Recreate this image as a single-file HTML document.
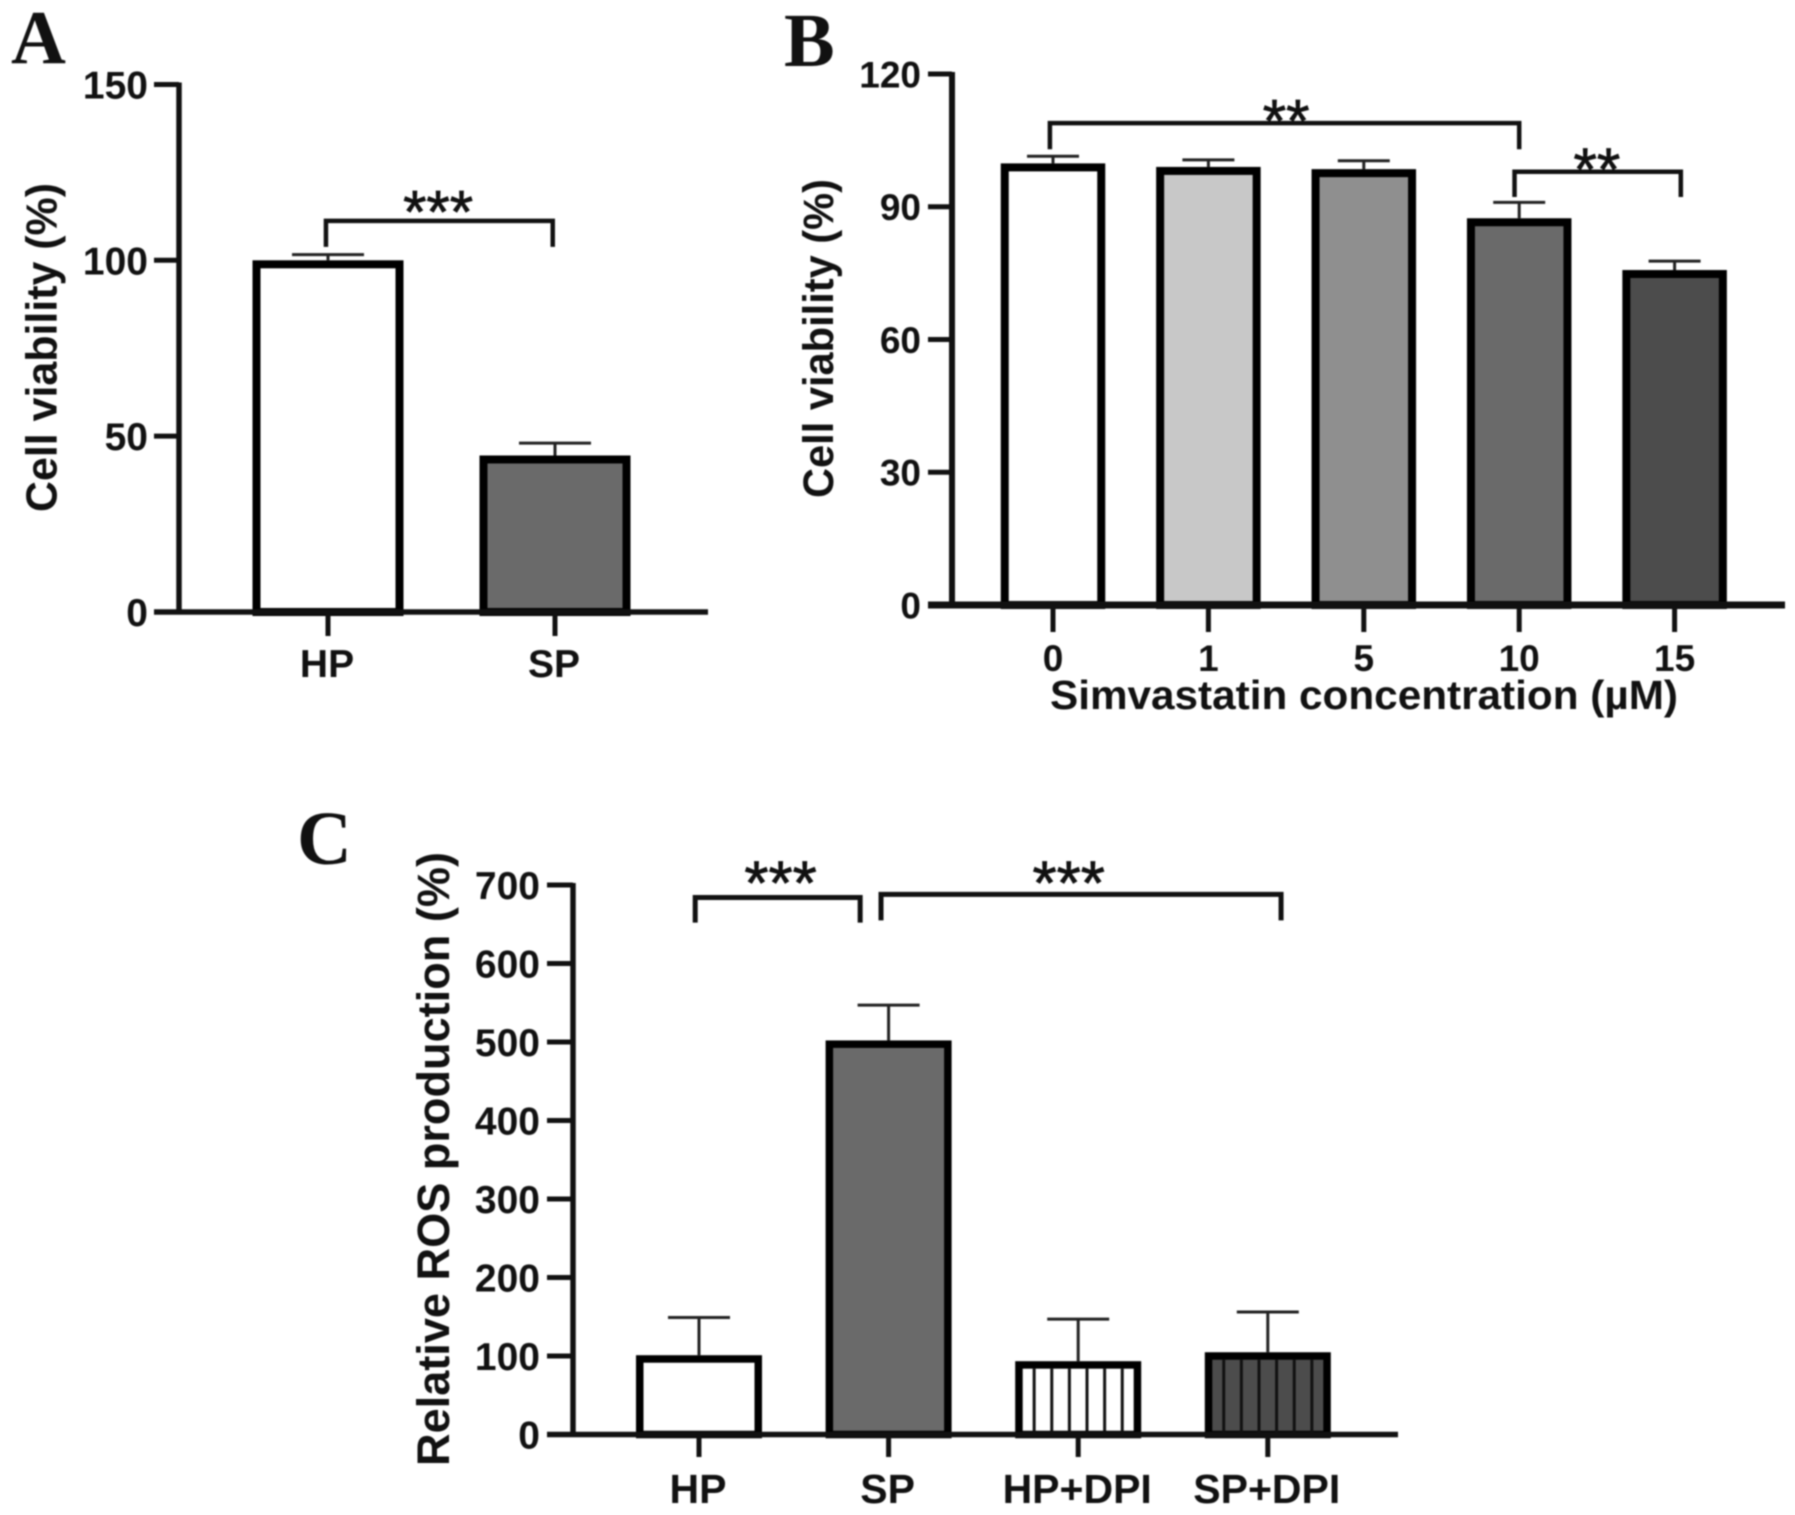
<!DOCTYPE html>
<html lang="en">
<head>
<meta charset="utf-8">
<title>Cell viability and ROS production</title>
<style>
  html, body { margin: 0; padding: 0; background: #fff; }
  svg { display: block; filter: blur(0.7px); }
  text { font-family: "Liberation Sans", Arial, sans-serif; font-weight: bold; fill: #111; }
  .letter { font-family: "Liberation Serif", "Times New Roman", serif; font-size: 76px; }
  .stars { font-weight: normal; stroke: #111; stroke-width: 0.8px; }
</style>
</head>
<body>
<svg id="figure" xmlns="http://www.w3.org/2000/svg" width="1795" height="1515" viewBox="0 0 1795 1515">
  <rect x="0" y="0" width="1795" height="1515" fill="#fff"/>

  <text class="letter" x="11" y="63">A</text>
  <text class="letter" x="784" y="66">B</text>
  <text class="letter" x="297" y="864">C</text>

  <g id="panel-a"></g>
  <g id="panel-b"></g>
  <g id="panel-c"></g>

  <text transform="translate(56.5 512) rotate(-90)" font-size="44" textLength="329" lengthAdjust="spacingAndGlyphs">Cell viability (%)</text>
  <text transform="translate(833 498) rotate(-90)" font-size="43" textLength="319" lengthAdjust="spacingAndGlyphs">Cell viability (%)</text>
  <text x="1050" y="709" font-size="41" textLength="628" lengthAdjust="spacingAndGlyphs">Simvastatin concentration (µM)</text>
  <text transform="translate(449 1466) rotate(-90)" font-size="45" textLength="614" lengthAdjust="spacingAndGlyphs">Relative ROS production (%)</text>
</svg>

<script>
// Panel A data
const aCategories = ['HP', 'SP'];
const aValues = [100, 44.5];
const aErrorTops = [101.6, 48];
const aTicks = [0, 50, 100, 150];

// Panel B data
const bCategories = ['0', '1', '5', '10', '15'];
const bValues = [99.8, 99, 98.5, 87.4, 75.7];
const bErrorTops = [101.4, 100.6, 100.4, 91, 77.7];
const bTicks = [0, 30, 60, 90, 120];

// Panel C data
const cCategories = ['HP', 'SP', 'HP+DPI', 'SP+DPI'];
const cValues = [101, 502, 93.4, 104.8];
const cErrorTops = [149, 547, 147, 156];
const cTicks = [0, 100, 200, 300, 400, 500, 600, 700];

// Bar appearance (kept apart from the data)
const aFills = ['#ffffff', '#6a6a6a'];
const bFills = ['#ffffff', '#c8c8c8', '#8f8f8f', '#6a6a6a', '#4c4c4c'];
const cFills = ['#ffffff', '#6a6a6a', '#ffffff', '#4c4c4c'];
const cStripes = [false, false, true, true];

// Axis functions
const xA = function (i) { return 328 + i * 227; };
const yA = function (v) { return 612 - v * 3.517; };
const xB = function (i) { return 1053 + i * 155.4; };
const yB = function (v) { return 605 - v * 4.425; };
const xC = function (i) { return 699 + i * 189.6; };
const yC = function (v) { return 1434.5 - v * 0.785; };

const NS = 'http://www.w3.org/2000/svg';

function make(parent, tag, attrs) {
  const node = document.createElementNS(NS, tag);
  Object.keys(attrs).forEach(function (k) { node.setAttribute(k, attrs[k]); });
  parent.appendChild(node);
  return node;
}

function drawPanel(root, o) {
  const base = o.y(0);

  // error bars
  o.values.forEach(function (v, i) {
    const cx = o.x(i);
    const stem = make(root, 'line', { x1: cx, x2: cx, y1: o.y(v), y2: o.y(o.errors[i]), stroke: '#222', 'stroke-width': 3 });
    
    
    const cap = make(root, 'line', { x1: cx - o.capHalf, x2: cx + o.capHalf, y1: o.y(o.errors[i]), y2: o.y(o.errors[i]), stroke: '#222', 'stroke-width': 3 });
    
    
  });

  // bars
  o.values.forEach(function (v, i) {
    const cx = o.x(i);
    const sw = o.barStroke;
    const bar = make(root, 'rect', {
      x: cx - o.barWidth / 2 + sw / 2,
      y: o.y(v) + sw / 2,
      width: o.barWidth - sw,
      height: base - o.y(v) - sw / 2,
      fill: o.fills[i],
      stroke: '#000',
      'stroke-width': sw
    });
    
    
    if (o.stripes && o.stripes[i]) {
      for (let k = 1; k <= 6; k++) {
        const sx = cx - o.barWidth / 2 + sw + (o.barWidth - 2 * sw) * (k - 0.35) / 6.3;
        const stripe = make(root, 'line', { x1: sx, x2: sx, y1: o.y(v) + sw, y2: base, stroke: '#111', 'stroke-width': 3 });
        
        
      }
    }
  });

  // y axis
  const yLine = make(root, 'line', { x1: o.axisX, x2: o.axisX, y1: o.y(o.ticks[o.ticks.length - 1]) - 2, y2: base + 2.5, stroke: '#111', 'stroke-width': o.yAxisStroke });
  
  
  o.ticks.forEach(function (t) {
    const tick = make(root, 'line', { x1: o.tickLeft, x2: o.axisX, y1: o.y(t), y2: o.y(t), stroke: '#111', 'stroke-width': 5 });
    
    
    const label = make(root, 'text', { x: o.tickLabelEnd, y: o.y(t) + o.tickFont * 0.36, 'text-anchor': 'end', 'font-size': o.tickFont });
    label.textContent = String(t);
    
    
  });

  // x axis
  const xLine = make(root, 'line', { x1: o.tickLeft, x2: o.axisEnd, y1: base, y2: base, stroke: '#111', 'stroke-width': o.xAxisStroke });
  
  
  o.categories.forEach(function (c, i) {
    const cx = o.x(i);
    const tick = make(root, 'line', { x1: cx, x2: cx, y1: base, y2: o.tickBottom, stroke: '#111', 'stroke-width': 5 });
    
    
    const label = make(root, 'text', { x: cx + o.labelDx, y: o.labelBaseline, 'text-anchor': 'middle', 'font-size': o.labelFont });
    label.textContent = c;
    
    
  });
}

// Significance bracket, placed in category / value coordinates
function bracket(root, o, from, to, top, leftEnd, rightEnd, width) {
  const x0 = o.x(from), x1 = o.x(to);
  const path = make(root, 'path', {
    d: 'M' + x0 + ' ' + o.y(leftEnd) + 'V' + o.y(top) + 'H' + x1 + 'V' + o.y(rightEnd),
    fill: 'none',
    stroke: '#111',
    'stroke-width': width
  });
  
  
}

function stars(root, o, at, level, mark, size) {
  const label = make(root, 'text', { class: 'stars', x: o.x(at), y: o.y(level) + size * 0.55, 'text-anchor': 'middle', 'font-size': size });
  label.textContent = mark;
  
  
}

const panelA = {
  x: xA, y: yA, categories: aCategories, values: aValues, errors: aErrorTops, ticks: aTicks, fills: aFills,
  barWidth: 151, barStroke: 8, capHalf: 36, axisX: 179, yAxisStroke: 5.5, tickLeft: 154, tickLabelEnd: 148, axisEnd: 708, xAxisStroke: 5.5,
  tickBottom: 636, labelBaseline: 677, labelDx: -1, labelFont: 39, tickFont: 39
};
const panelB = {
  x: xB, y: yB, categories: bCategories, values: bValues, errors: bErrorTops, ticks: bTicks, fills: bFills,
  barWidth: 104.5, barStroke: 8, capHalf: 26, axisX: 952, yAxisStroke: 6, tickLeft: 928, tickLabelEnd: 921, axisEnd: 1785, xAxisStroke: 7,
  tickBottom: 632, labelBaseline: 671, labelDx: 0, labelFont: 37, tickFont: 37
};
const panelC = {
  x: xC, y: yC, categories: cCategories, values: cValues, errors: cErrorTops, ticks: cTicks, fills: cFills, stripes: cStripes,
  barWidth: 126, barStroke: 7.5, capHalf: 31, axisX: 573, yAxisStroke: 5.5, tickLeft: 547, tickLabelEnd: 540, axisEnd: 1398, xAxisStroke: 5.5,
  tickBottom: 1457, labelBaseline: 1503, labelDx: -1, labelFont: 41, tickFont: 39
};

const rootA = document.getElementById('panel-a');
const rootB = document.getElementById('panel-b');
const rootC = document.getElementById('panel-c');

drawPanel(rootA, panelA);
drawPanel(rootB, panelB);
drawPanel(rootC, panelC);

bracket(rootA, panelA, -0.009, 0.99, 111.2, 103.8, 103.8, 4.5);
stars(rootA, panelA, 0.485, 117.3, '***', 60);

bracket(rootB, panelB, -0.02, 3, 108.9, 103, 103, 4.5);
stars(rootB, panelB, 1.5, 112.2, '**', 60);
bracket(rootB, panelB, 2.97, 4.04, 97.9, 92.2, 92.2, 4.5);
stars(rootB, panelB, 3.5, 101.2, '**', 60);

bracket(rootC, panelC, -0.02, 0.85, 684, 652, 652, 5);
stars(rootC, panelC, 0.43, 718.4, '***', 62);
bracket(rootC, panelC, 0.96, 3.07, 688, 655, 655, 5);
stars(rootC, panelC, 1.95, 718.4, '***', 62);
</script>
</body>
</html>
